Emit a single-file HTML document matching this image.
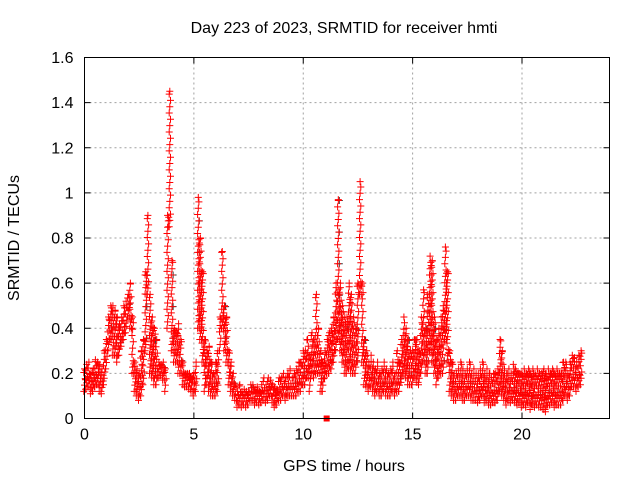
<!DOCTYPE html>
<html><head><meta charset="utf-8"><style>
body{margin:0;background:#fff;}
svg text{font-family:"Liberation Sans",sans-serif;font-size:16px;fill:#000;}
</style></head><body>
<svg id="chart" width="640" height="480" xmlns="http://www.w3.org/2000/svg">
<rect width="640" height="480" fill="#fff"/>
<text x="344" y="33" text-anchor="middle">Day 223 of 2023, SRMTID for receiver hmti</text>
<text x="344" y="471" text-anchor="middle">GPS time / hours</text>
<text transform="translate(19,238) rotate(-90)" text-anchor="middle">SRMTID / TECUs</text>
<g id="grid"></g><g id="ticks"></g><g id="marks"></g>
<rect x="84.5" y="57.5" width="525" height="361" fill="none" stroke="#000" stroke-width="1"/>
</svg>
<script>
const xTicks=[0,5,10,15,20];
const yTicks=[0,0.2,0.4,0.6,0.8,1,1.2,1.4,1.6];
const yTickLabels=["0","0.2","0.4","0.6","0.8","1","1.2","1.4","1.6"];
const hi=[.22,.24,.25,.2,.22,.26,.25,.24,.22,.3,
.35,.45,.5,.5,.48,.45,.42,.45,.5,.52,
.55,.6,.45,.25,.22,.2,.3,.35,.65,.9,
.55,.45,.4,.35,.25,.24,.25,.22,.9,1.45,
.7,.4,.38,.42,.35,.25,.2,.2,.2,.18,
.2,.25,.98,.8,.65,.35,.3,.32,.25,.2,
.25,.3,.45,.74,.5,.45,.3,.25,.2,.15,
.12,.15,.12,.13,.12,.12,.15,.15,.13,.14,
.12,.15,.18,.15,.18,.17,.15,.14,.13,.18,
.18,.2,.18,.2,.22,.18,.2,.22,.25,.25,
.3,.3,.35,.28,.38,.35,.55,.4,.3,.25,
.3,.35,.38,.4,.45,.6,.97,.6,.5,.45,
.45,.6,.55,.45,.4,.6,1.05,.6,.35,.3,
.25,.28,.25,.22,.25,.2,.22,.25,.22,.2,
.22,.25,.2,.3,.25,.35,.45,.4,.35,.3,
.3,.35,.35,.3,.45,.57,.4,.55,.72,.7,
.45,.35,.4,.45,.5,.76,.65,.3,.25,.2,
.2,.22,.25,.22,.2,.22,.25,.2,.22,.2,
.2,.22,.25,.2,.22,.2,.18,.2,.2,.22,
.35,.3,.22,.2,.22,.2,.24,.22,.2,.2,
.2,.22,.2,.22,.2,.22,.2,.22,.2,.2,
.22,.2,.22,.2,.22,.2,.22,.2,.2,.25,
.25,.2,.25,.28,.27,.25,.28,.3];
const lo=[.12,.13,.14,.11,.12,.14,.15,.12,.11,.15,
.22,.3,.35,.28,.28,.25,.28,.32,.35,.38,
.45,.4,.2,.12,.1,.08,.1,.15,.3,.55,
.2,.18,.15,.15,.18,.19,.17,.12,.4,.85,
.3,.25,.25,.2,.2,.15,.14,.14,.13,.12,
.1,.12,.4,.35,.25,.12,.15,.12,.1,.1,
.1,.12,.3,.4,.3,.25,.15,.12,.1,.08,
.05,.06,.05,.06,.05,.06,.08,.08,.06,.07,
.06,.07,.08,.07,.08,.1,.07,.05,.06,.08,
.08,.1,.08,.1,.1,.1,.1,.1,.12,.12,
.15,.15,.18,.12,.2,.18,.2,.2,.12,.12,
.18,.2,.2,.22,.25,.3,.35,.3,.25,.2,
.2,.22,.2,.2,.2,.25,.55,.25,.15,.14,
.12,.14,.12,.1,.12,.1,.1,.12,.1,.1,
.1,.12,.1,.12,.12,.16,.2,.18,.15,.15,
.15,.18,.16,.15,.2,.25,.2,.2,.3,.25,
.2,.15,.18,.2,.2,.35,.25,.12,.1,.08,
.08,.1,.1,.08,.08,.1,.1,.08,.08,.08,
.07,.08,.1,.07,.08,.06,.06,.07,.07,.08,
.12,.1,.08,.06,.08,.07,.08,.07,.06,.07,
.05,.06,.05,.07,.04,.06,.05,.06,.05,.05,
.04,.03,.06,.06,.07,.05,.06,.06,.06,.08,
.1,.08,.1,.14,.14,.12,.14,.15];
const timeStep=0.1;
const gapTimes=[11.07];
const gapValues=[0];
const X0=84.5,X1=609.5,Y0=418.5,Y1=57.5;
const xS=t=>X0+(t/24)*(X1-X0);
const yS=v=>Y0-(v/1.6)*(Y0-Y1);
const NS="http://www.w3.org/2000/svg";
function mk(tag,attrs,parent){const e=document.createElementNS(NS,tag);for(const k in attrs)e.setAttribute(k,attrs[k]);parent.appendChild(e);return e;}
const grid=document.getElementById('grid'),ticks=document.getElementById('ticks'),marks=document.getElementById('marks');
xTicks.forEach(t=>{const x=xS(t);
 if(t>0){const g=mk('line',{x1:x,x2:x,y1:Y1,y2:Y0,stroke:'#a0a0a0','stroke-dasharray':'2,3'},grid);
 
 }
 mk('line',{x1:x,x2:x,y1:Y0,y2:Y0-6,stroke:'#000'},ticks);
 mk('line',{x1:x,x2:x,y1:Y1,y2:Y1+6,stroke:'#000'},ticks);
 const l=mk('text',{x:x,y:Y0+21,'text-anchor':'middle'},ticks);l.textContent=t;
 
 
});
yTicks.forEach((v,i)=>{const y=yS(v);
 if(v>0&&v<1.6){const g=mk('line',{x1:X0,x2:X1,y1:y,y2:y,stroke:'#a0a0a0','stroke-dasharray':'2,3'},grid);
 
 }
 mk('line',{x1:X0,x2:X0+6,y1:y,y2:y,stroke:'#000'},ticks);
 mk('line',{x1:X1,x2:X1-6,y1:y,y2:y,stroke:'#000'},ticks);
 const l=mk('text',{x:X0-11,y:y+5.5,'text-anchor':'end'},ticks);l.textContent=yTickLabels[i];
 
 
});
function plus(t,v){const x=xS(t),y=yS(v);return `M${(x-3.5).toFixed(1)},${y.toFixed(1)}h7M${x.toFixed(1)},${(y-3.5).toFixed(1)}v7`;}
let d='',dk='';
const vStep=0.028;
hi.forEach((h,i)=>{
 const l=lo[i],t=i*timeStep;
 let k=0;
 for(let v=l;v<h;v+=vStep,k++){
  d+=plus(t+((k%3)-1)*0.03,v);
  if(i%4===0&&k%5===2)dk+=plus(t+0.05,v);
 }
 d+=plus(t,h);
 if(i+1<hi.length){
  const h2=Math.min(h,hi[i+1]),l2=Math.max(l,lo[i+1]);
  for(let v=l2;v<h2;v+=vStep*1.5)d+=plus(t+timeStep/2,v);
 }
});
const pk=mk('path',{d:dk,stroke:'#333','stroke-width':1,fill:'none'},marks);


const p=mk('path',{d:d,stroke:'#ff0000','stroke-width':1,fill:'none'},marks);


gapTimes.forEach((t,i)=>{const r=mk('rect',{x:xS(t)-3,y:yS(gapValues[i])-3,width:6,height:6,fill:'#ff0000'},marks);
 
 });
</script>
</body></html>
